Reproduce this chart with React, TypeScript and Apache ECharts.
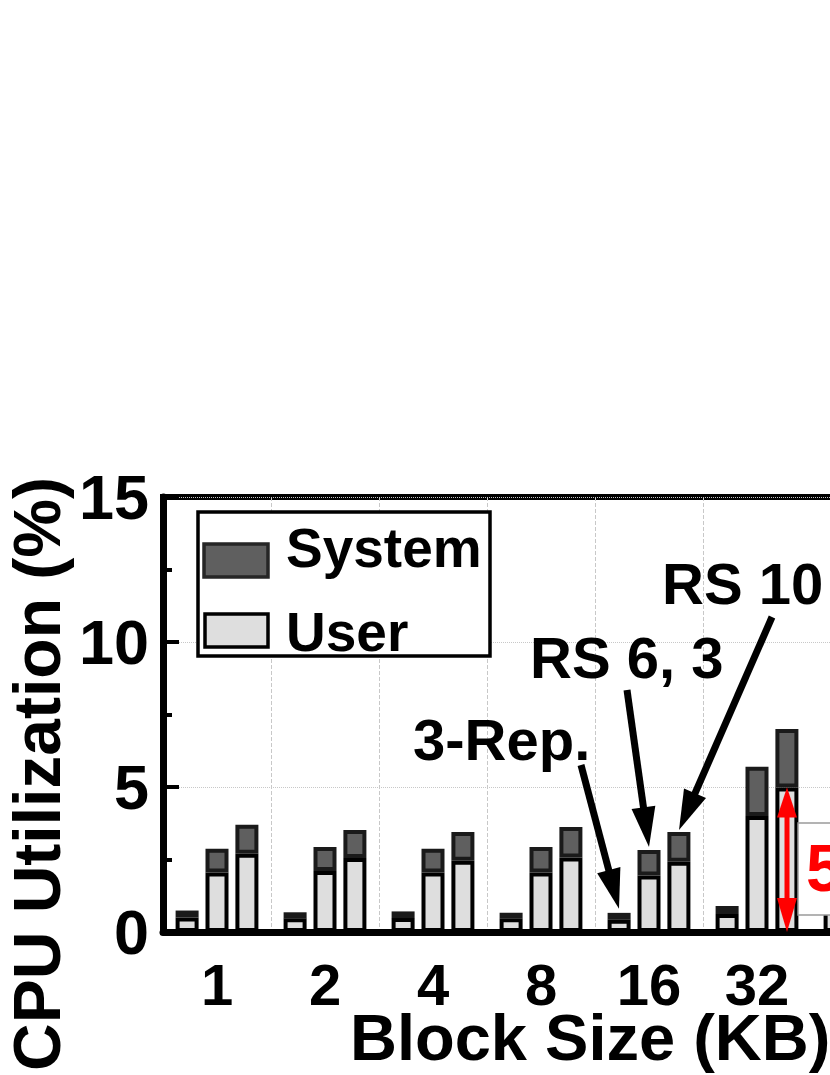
import React, { useEffect, useRef } from "react";
import * as echarts from "echarts";

const categories = ["1", "2", "4", "8", "16", "32", "64"];
const repUser = [0.5, 0.47, 0.48, 0.47, 0.42, 0.62, 0.8];
const repSystem = [0.24, 0.21, 0.23, 0.19, 0.24, 0.28, 0.32];
const rs63User = [2.05, 2.1, 2.05, 2.05, 1.95, 4.0, 4.6];
const rs63System = [0.82, 0.83, 0.82, 0.88, 0.88, 1.7, 1.9];
const rs104User = [2.7, 2.55, 2.46, 2.57, 2.42, 4.98, 5.8];
const rs104System = [1.0, 0.97, 0.99, 1.05, 1.03, 2.02, 2.3];
const visibleLabels = 6;
const yMin = 0;
const yMax = 15;
const yStep = 5;

const USER_COLOR = "#dedede";
const SYS_COLOR = "#5f5f5f";
const FONT = '"Liberation Sans", Arial, Helvetica, sans-serif';

function arrow(x1: number, y1: number, x2: number, y2: number, color: string, width: number, headLen: number, headHalf: number) {
  const dx = x2 - x1;
  const dy = y2 - y1;
  const len = Math.sqrt(dx * dx + dy * dy);
  const ux = dx / len;
  const uy = dy / len;
  const bx = x2 - ux * headLen;
  const by = y2 - uy * headLen;
  const px = -uy;
  const py = ux;
  return [
    {
      type: "line",
      shape: { x1, y1, x2: bx + ux * 2, y2: by + uy * 2 },
      style: { stroke: color, lineWidth: width },
      z: 100,
    },
    {
      type: "polygon",
      shape: {
        points: [
          [x2, y2],
          [bx + px * headHalf, by + py * headHalf],
          [bx - px * headHalf, by - py * headHalf],
        ],
      },
      style: { fill: color },
      z: 100,
    },
  ];
}

export default function App() {
  const ref = useRef<HTMLDivElement>(null);
  useEffect(() => {
    const chart = echarts.init(ref.current!, null, { renderer: "svg" });
    const mk = (name: string, stack: string, data: number[], color: string, border: string) => ({
      type: "bar",
      name,
      stack,
      data,
      barWidth: 23,
      barGap: "30%",
      itemStyle: { color, borderColor: border, borderWidth: 4 },
      emphasis: { disabled: true },
    });
    chart.setOption({
      animation: false,
      grid: {
        left: 163,
        top: 497,
        right: 0,
        bottom: 143,
        show: true,
        borderColor: "#000",
        borderWidth: 6,
        backgroundColor: "#fff",
      },
      xAxis: {
        type: "category",
        data: categories,
        axisLine: { lineStyle: { color: "#000", width: 7 } },
        axisTick: { show: false },
        axisLabel: {
          fontSize: 58,
          fontWeight: "bold",
          color: "#000",
          margin: 23,
          fontFamily: FONT,
          interval: (i: number) => i < visibleLabels,
        },
        splitLine: { show: true, lineStyle: { color: "#c8c8c8", type: "dashed", width: 1 } },
      },
      yAxis: {
        type: "value",
        min: yMin,
        max: yMax,
        interval: yStep,
        axisLine: { show: true, lineStyle: { color: "#000", width: 7 } },
        axisTick: { show: true, inside: true, length: 16, lineStyle: { color: "#000", width: 4 } },
        minorTick: { show: true, splitNumber: 2, length: 9, lineStyle: { color: "#000", width: 4 } },
        axisLabel: {
          fontSize: 63,
          fontWeight: "bold",
          color: "#000",
          margin: 14,
          fontFamily: FONT,
          padding: [16, 0, 0, 0],
        },
        splitLine: { show: true, lineStyle: { color: "#c8c8c8", type: "dotted", width: 1 } },
      },
      series: [
        mk("User", "rep", repUser, USER_COLOR, "#000"),
        mk("System", "rep", repSystem, SYS_COLOR, "#1a1a1a"),
        mk("User", "rs63", rs63User, USER_COLOR, "#000"),
        mk("System", "rs63", rs63System, SYS_COLOR, "#1a1a1a"),
        mk("User", "rs104", rs104User, USER_COLOR, "#000"),
        mk("System", "rs104", rs104System, SYS_COLOR, "#1a1a1a"),
      ],
    });

    const px = (cat: number, bar: number) =>
      (chart.convertToPixel({ xAxisIndex: 0 }, cat) as number) + (bar - 1) * 30;
    const py = (v: number) => chart.convertToPixel({ yAxisIndex: 0 }, v) as number;

    const i16 = categories.indexOf("16");
    const i32 = categories.indexOf("32");
    const tipRep = [px(i16, 0), py(repUser[i16] + repSystem[i16]) - 4];
    const tip63 = [px(i16, 1), py(rs63User[i16] + rs63System[i16]) - 3];
    const tip104 = [px(i16, 2), py(rs104User[i16] + rs104System[i16]) - 2];
    const redX = px(i32, 2);
    const redTop = py(rs104User[i32]);
    const redBot = py(0);

    const textStyle = (text: string, size: number, color = "#000") => ({
      text,
      fill: color,
      font: `bold ${size}px ${FONT}`,
      textVerticalAlign: "middle",
    });

    chart.setOption({
      graphic: [
        // legend
        { type: "rect", shape: { x: 198, y: 512, width: 292, height: 144 }, style: { fill: "#fff", stroke: "#000", lineWidth: 3.5 }, z: 90 },
        { type: "rect", shape: { x: 204, y: 544, width: 64, height: 33 }, style: { fill: SYS_COLOR, stroke: "#262626", lineWidth: 3.5 }, z: 91 },
        { type: "rect", shape: { x: 205, y: 614, width: 63, height: 33 }, style: { fill: USER_COLOR, stroke: "#000", lineWidth: 3.5 }, z: 91 },
        { type: "text", x: 286, y: 548, style: textStyle("System", 55), z: 91 },
        { type: "text", x: 286, y: 632, style: textStyle("User", 55), z: 91 },
        // annotations
        { type: "text", x: 413, y: 739, style: textStyle("3-Rep.", 58), z: 100 },
        { type: "text", x: 530, y: 657, style: textStyle("RS 6, 3", 58), z: 100 },
        { type: "text", x: 662, y: 583, style: textStyle("RS 10", 58), z: 100 },
        ...arrow(581, 765, tipRep[0], tipRep[1], "#000", 7, 40, 12),
        ...arrow(627, 690, tip63[0], tip63[1], "#000", 7, 40, 12),
        ...arrow(772, 617, tip104[0], tip104[1], "#000", 7, 40, 12),
        // red double arrow
        { type: "line", shape: { x1: redX, y1: redTop + 25, x2: redX, y2: redBot - 25 }, style: { stroke: "#ff0000", lineWidth: 5 }, z: 100 },
        { type: "polygon", shape: { points: [[redX, redTop], [redX - 10, redTop + 30], [redX + 10, redTop + 30]] }, style: { fill: "#ff0000" }, z: 100 },
        { type: "polygon", shape: { points: [[redX, redBot], [redX - 10, redBot - 34], [redX + 10, redBot - 34]] }, style: { fill: "#ff0000" }, z: 100 },
        { type: "rect", shape: { x: 798, y: 823, width: 140, height: 92 }, style: { fill: "#fff", stroke: "#9a9a9a", lineWidth: 1.5 }, z: 99 },
        { type: "text", x: 806, y: 868, style: textStyle("5", 66, "#ff0000"), z: 100 },
        // axis titles
        { type: "text", x: 350, y: 1037, style: textStyle("Block Size (KB)", 65), z: 100 },
        {
          type: "text",
          x: 37,
          y: 774,
          rotation: Math.PI / 2,
          style: { ...textStyle("CPU Utilization (%)", 66), textAlign: "center" },
          z: 100,
        },
      ],
    });
    return () => chart.dispose();
  }, []);
  return (
    <div style={{ position: "absolute", left: 0, top: 0, width: 830, height: 1075, overflow: "hidden", background: "#fff" }}>
      <div ref={ref} style={{ width: 919, height: 1075 }} />
    </div>
  );
}
